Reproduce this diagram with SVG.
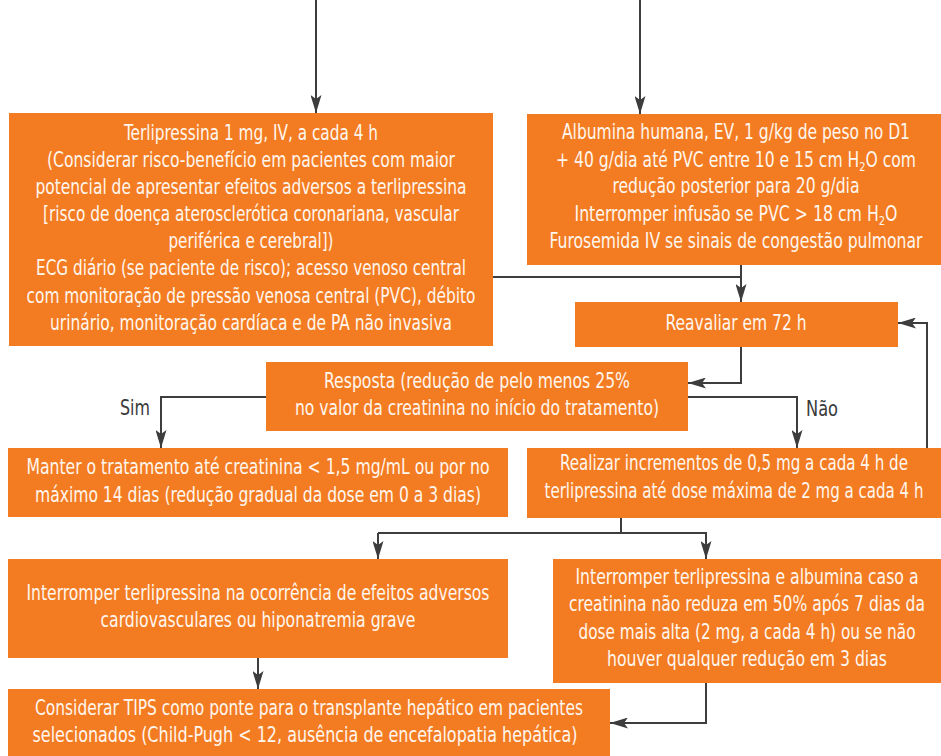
<svg xmlns="http://www.w3.org/2000/svg" width="941" height="756" viewBox="0 0 941 756">
  <style>
    .box { fill: #F37C22; }
    .t { font-family: "DejaVu Sans", "Liberation Sans", sans-serif; font-stretch: condensed; font-size: 20.5px; fill: #FFF6EE; text-anchor: middle; }
    .lbl { font-family: "DejaVu Sans", "Liberation Sans", sans-serif; font-stretch: condensed; font-size: 20.5px; fill: #3A3A3A; }
    .c { fill: none; stroke: #3D3D3D; stroke-width: 2; marker-end: url(#ah); }
    .cn { fill: none; stroke: #3D3D3D; stroke-width: 2; }
    .sub { font-size: 13px; }
  </style>
  <defs>
    <marker id="ah" viewBox="0 0 18 11" refX="18" refY="5.5" markerWidth="18" markerHeight="11" markerUnits="userSpaceOnUse" orient="auto">
      <path d="M0,0 L18,5.5 L0,11 L4,5.5 z" fill="#3D3D3D"/>
    </marker>
  </defs>

  <!-- connectors -->
  <g id="connectors">
    <path class="c" d="M316,0 V113"/>
    <path class="c" d="M640,0 V114"/>
    <path class="cn" d="M493,277 H741"/>
    <path class="c" d="M741,265 V302"/>
    <path class="c" d="M741,347 V383 H688"/>
    <path class="c" d="M266,397 H161 V448"/>
    <path class="c" d="M688,397 H797 V448"/>
    <path class="c" d="M927,448 V323 H898"/>
    <path class="cn" d="M621,518 V533"/>
    <path class="c" d="M378,533 H706 V559"/>
    <path class="c" d="M378,533 V559"/>
    <path class="c" d="M258,658 V689"/>
    <path class="c" d="M706,683 V723 H610"/>
    <text class="lbl" x="120" y="415" textLength="30" lengthAdjust="spacingAndGlyphs">Sim</text>
    <text class="lbl" x="806" y="416" textLength="32" lengthAdjust="spacingAndGlyphs">Não</text>
  </g>

  <g id="terlipressina">
    <rect class="box" x="9" y="113" width="484" height="233"/>
    <text class="t" x="251" y="140" textLength="254" lengthAdjust="spacingAndGlyphs">Terlipressina 1 mg, IV, a cada 4 h</text>
    <text class="t" x="251" y="167" textLength="408" lengthAdjust="spacingAndGlyphs">(Considerar risco-benefício em pacientes com maior</text>
    <text class="t" x="251" y="194" textLength="431" lengthAdjust="spacingAndGlyphs">potencial de apresentar efeitos adversos a terlipressina</text>
    <text class="t" x="251" y="221" textLength="416" lengthAdjust="spacingAndGlyphs">[risco de doença aterosclerótica coronariana, vascular</text>
    <text class="t" x="251" y="248" textLength="165" lengthAdjust="spacingAndGlyphs">periférica e cerebral])</text>
    <text class="t" x="251" y="275" textLength="430" lengthAdjust="spacingAndGlyphs">ECG diário (se paciente de risco); acesso venoso central</text>
    <text class="t" x="251" y="303" textLength="449" lengthAdjust="spacingAndGlyphs">com monitoração de pressão venosa central (PVC), débito</text>
    <text class="t" x="251" y="330" textLength="402" lengthAdjust="spacingAndGlyphs">urinário, monitoração cardíaca e de PA não invasiva</text>
  </g>

  <g id="albumina">
    <rect class="box" x="527" y="114" width="414" height="151"/>
    <text class="t" x="736" y="139" textLength="348" lengthAdjust="spacingAndGlyphs">Albumina humana, EV, 1 g/kg de peso no D1</text>
    <text class="t" x="736" y="167" textLength="360" lengthAdjust="spacingAndGlyphs">+ 40 g/dia até PVC entre 10 e 15 cm H<tspan class="sub" dy="4">2</tspan><tspan dy="-4">O com</tspan></text>
    <text class="t" x="736" y="193" textLength="247" lengthAdjust="spacingAndGlyphs">redução posterior para 20 g/dia</text>
    <text class="t" x="736" y="221" textLength="323" lengthAdjust="spacingAndGlyphs">Interromper infusão se PVC &gt; 18 cm H<tspan class="sub" dy="4">2</tspan><tspan dy="-4">O</tspan></text>
    <text class="t" x="736" y="248" textLength="373" lengthAdjust="spacingAndGlyphs">Furosemida IV se sinais de congestão pulmonar</text>
  </g>

  <g id="reavaliar">
    <rect class="box" x="575" y="302" width="323" height="45"/>
    <text class="t" x="736" y="330" textLength="141" lengthAdjust="spacingAndGlyphs">Reavaliar em 72 h</text>
  </g>

  <g id="resposta">
    <rect class="box" x="266" y="362" width="422" height="69"/>
    <text class="t" x="477" y="388" textLength="306" lengthAdjust="spacingAndGlyphs">Resposta (redução de pelo menos 25%</text>
    <text class="t" x="477" y="415" textLength="364" lengthAdjust="spacingAndGlyphs">no valor da creatinina no início do tratamento)</text>
  </g>

  <g id="manter">
    <rect class="box" x="8" y="448" width="500" height="69"/>
    <text class="t" x="258" y="474" textLength="463" lengthAdjust="spacingAndGlyphs">Manter o tratamento até creatinina &lt; 1,5 mg/mL ou por no</text>
    <text class="t" x="258" y="502" textLength="446" lengthAdjust="spacingAndGlyphs">máximo 14 dias (redução gradual da dose em 0 a 3 dias)</text>
  </g>

  <g id="realizar">
    <rect class="box" x="527" y="448" width="414" height="70"/>
    <text class="t" x="734" y="470" textLength="348" lengthAdjust="spacingAndGlyphs">Realizar incrementos de 0,5 mg a cada 4 h de</text>
    <text class="t" x="734" y="498" textLength="379" lengthAdjust="spacingAndGlyphs">terlipressina até dose máxima de 2 mg a cada 4 h</text>
  </g>

  <g id="interromper-efeitos">
    <rect class="box" x="8" y="559" width="500" height="99"/>
    <text class="t" x="258" y="600" textLength="463" lengthAdjust="spacingAndGlyphs">Interromper terlipressina na ocorrência de efeitos adversos</text>
    <text class="t" x="258" y="627" textLength="315" lengthAdjust="spacingAndGlyphs">cardiovasculares ou hiponatremia grave</text>
  </g>

  <g id="interromper-albumina">
    <rect class="box" x="553" y="559" width="388" height="124"/>
    <text class="t" x="747" y="584" textLength="343" lengthAdjust="spacingAndGlyphs">Interromper terlipressina e albumina caso a</text>
    <text class="t" x="747" y="611" textLength="356" lengthAdjust="spacingAndGlyphs">creatinina não reduza em 50% após 7 dias da</text>
    <text class="t" x="747" y="639" textLength="337" lengthAdjust="spacingAndGlyphs">dose mais alta (2 mg, a cada 4 h) ou se não</text>
    <text class="t" x="747" y="666" textLength="280" lengthAdjust="spacingAndGlyphs">houver qualquer redução em 3 dias</text>
  </g>

  <g id="tips">
    <rect class="box" x="8" y="689" width="602" height="67"/>
    <text class="t" x="309" y="715" textLength="548" lengthAdjust="spacingAndGlyphs">Considerar TIPS como ponte para o transplante hepático em pacientes</text>
    <text class="t" x="305" y="742" textLength="545" lengthAdjust="spacingAndGlyphs">selecionados (Child-Pugh &lt; 12, ausência de encefalopatia hepática)</text>
  </g>
</svg>
